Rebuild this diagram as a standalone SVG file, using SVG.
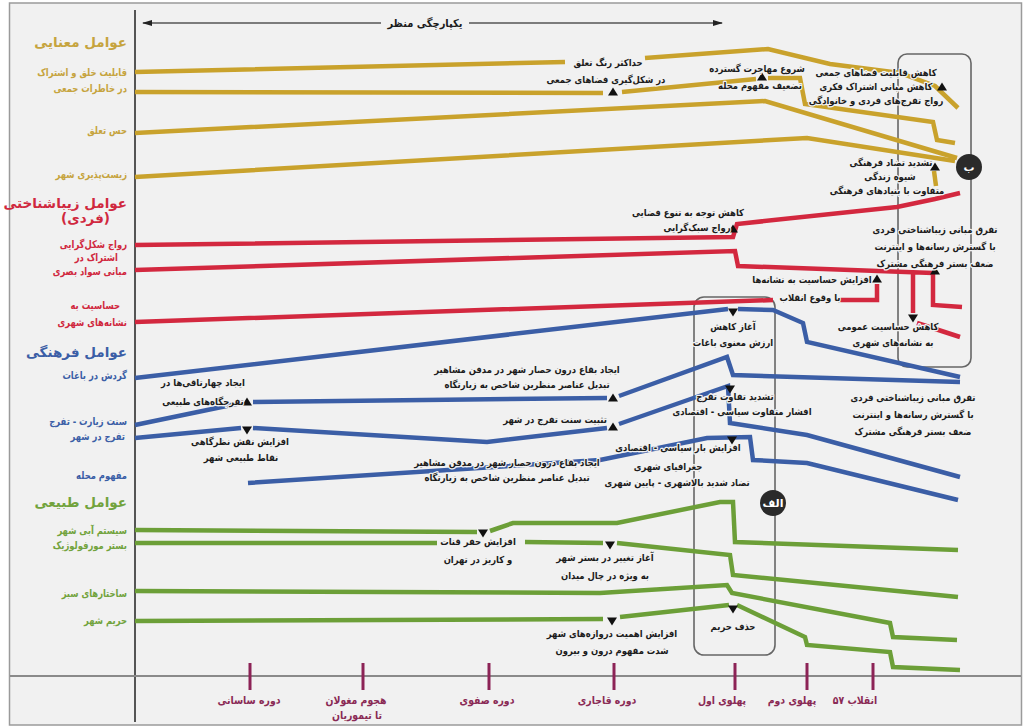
<svg xmlns="http://www.w3.org/2000/svg" width="1023" height="728" viewBox="0 0 1023 728">
<style>
text { font-family: 'DejaVu Sans', 'Noto Sans', sans-serif; font-weight: bold; }
.lab { font-size: 10.5px; text-anchor: end; }
.hd { font-size: 13.5px; text-anchor: end; }
.ann { font-size: 9.6px; fill: #1c1c1c; text-anchor: middle; paint-order: stroke; stroke: #f1f1f1; stroke-width: 2.5px; stroke-linejoin: round; }
.per { font-size: 11px; fill: #8a2a55; text-anchor: middle; }
.cg { fill: #c6a43e; } .cr { fill: #d0283e; } .cb { fill: #3b5ea6; } .cgr { fill: #72a33d; }
.ln { fill: none; stroke-width: 4.5; stroke-linejoin: miter; }
.lg { stroke: #c9a22c; } .lr { stroke: #d3283f; } .lb { stroke: #3b5ea6; } .lgr { stroke: #6c9f38; }
.box { fill: none; stroke: #666; stroke-width: 1.6; }
.tick { stroke: #8c2356; stroke-width: 3; }
.circ { fill: #2a2a2a; }
.ctext { font-size: 11px; fill: #fff; text-anchor: middle; }
</style>
<defs>
<path id="tu" d="M0,-4.5 L5,3.5 L-5,3.5 Z" fill="#111"/>
<path id="td" d="M0,4.5 L5,-3.5 L-5,-3.5 Z" fill="#111"/>
<marker id="arrL" markerWidth="10" markerHeight="8" refX="1" refY="4" orient="auto" markerUnits="userSpaceOnUse"><path d="M10,1 L0,4 L10,7 Z" fill="#222"/></marker>
<marker id="arrR" markerWidth="10" markerHeight="8" refX="9" refY="4" orient="auto" markerUnits="userSpaceOnUse"><path d="M0,1 L10,4 L0,7 Z" fill="#222"/></marker>
</defs>
<rect x="0" y="0" width="1023" height="728" fill="#ffffff"/>
<rect id="frame" x="9.5" y="3" width="1012" height="722" fill="#f1f1f1" stroke="#9a9a9a" stroke-width="1.5"/>

<g id="axes">
<line x1="135" y1="10" x2="135" y2="722" stroke="#555" stroke-width="2"/>
<line x1="10" y1="676" x2="1021" y2="676" stroke="#8a8a8a" stroke-width="2"/>
</g>

<g id="top-arrow">
<line x1="143" y1="23" x2="381" y2="23" stroke="#555" stroke-width="1.5" marker-start="url(#arrL)"/>
<line x1="469" y1="23" x2="722" y2="23" stroke="#555" stroke-width="1.5" marker-end="url(#arrR)"/>
<text transform="translate(425 27) scale(0.9 1)" font-size="11" fill="#1c1c1c" text-anchor="middle">یکپارچگی منظر</text>
</g>

<g id="boxes">
<rect id="box-b" class="box" x="898" y="54" width="73" height="313" rx="9"/>
<rect id="box-alef" class="box" x="694" y="297" width="81" height="358" rx="10"/>
</g>

<g id="connectors">
<path class="ln lg" d="M135,72 L565,62 M645,58 L768,49 L830,64 L900,73 L935,86 L958,108"/>
<path class="ln lg" d="M135,92 L603,93 M622,92 L756,79 M768,78 L800,78 L805,104 L933,122 L937,140 L955,143"/>
<path class="ln lg" d="M135,133 L765,101 L957,158"/>
<path class="ln lg" d="M135,177 L807,138 L955,161"/>
<path class="ln lg" d="M934,171 L936,186"/>

<path class="ln lr" d="M135,245 L733,237 L737,224 L897,207 L935,199 L960,193"/>
<path class="ln lr" d="M135,270 L735,251 L738,266 L933,273 M913,273 L913,313 M917,323 L960,337 M933,273 L933,305 L962,307"/>
<path class="ln lr" d="M135,322 L773,300 M838,300 L877,300 L877,284"/>

<path class="ln lb" d="M135,378 L728,309 M738,309 L773,310 L803,323 L807,342 L960,377"/>
<path class="ln lb" d="M135,425 L241,403 M253,402 L607,398 M619,396 L727,357 L733,375 L960,382"/>
<path class="ln lb" d="M135,438 L241,428 M253,428 L487,442 L607,428 M619,424 L728,386 L730,423 L807,435 L960,477"/>
<path class="ln lb" d="M248,483 L600,460 L707,438 L750,437 L753,460 L807,463 L958,500"/>

<path class="ln lgr" d="M135,530 L477,532 M490,531 L513,523 L617,523 L720,502 L733,502 L735,542 L958,550"/>
<path class="ln lgr" d="M135,543 L437,543 M525,542 L603,543 M617,543 L730,555 L733,575 L958,597"/>
<path class="ln lgr" d="M135,591 L600,593 L727,585 L732,593 L890,623 L893,637 L957,640"/>
<path class="ln lgr" d="M135,621 L603,619 M620,617 L729,605 M737,605 L805,637 L807,645 L890,652 L893,667 L960,670"/>
</g>

<g id="markers">
<use href="#tu" x="613" y="92"/>
<use href="#tu" x="762" y="77"/>
<use href="#tu" x="942" y="87"/>
<use href="#tu" x="935" y="167"/>
<use href="#tu" x="733" y="229"/>
<use href="#tu" x="935" y="271"/>
<use href="#tu" x="877" y="279"/>
<use href="#td" x="913" y="318"/>
<use href="#td" x="733" y="312"/>
<use href="#tu" x="247" y="402"/>
<use href="#td" x="247" y="430"/>
<use href="#tu" x="613" y="398"/>
<use href="#tu" x="613" y="427"/>
<use href="#td" x="730" y="389"/>
<use href="#td" x="732" y="440"/>
<use href="#td" x="483" y="533"/>
<use href="#td" x="610" y="545"/>
<use href="#td" x="612" y="621"/>
<use href="#td" x="733" y="609"/>
</g>

<g id="ticks">
<line class="tick" x1="250" y1="663" x2="250" y2="690"/>
<line class="tick" x1="363" y1="663" x2="363" y2="690"/>
<line class="tick" x1="489" y1="663" x2="489" y2="690"/>
<line class="tick" x1="614" y1="663" x2="614" y2="690"/>
<line class="tick" x1="735" y1="663" x2="735" y2="690"/>
<line class="tick" x1="807" y1="663" x2="807" y2="690"/>
<line class="tick" x1="873" y1="663" x2="873" y2="690"/>
</g>

<g id="periods">
<text class="per" transform="translate(249 704) scale(0.85 1)">دوره ساسانی</text>
<text class="per" transform="translate(356 704) scale(0.85 1)">هجوم مغولان</text>
<text class="per" transform="translate(357 719) scale(0.85 1)">تا تیموریان</text>
<text class="per" transform="translate(487 704) scale(0.85 1)">دوره صفوی</text>
<text class="per" transform="translate(607 704) scale(0.85 1)">دوره قاجاری</text>
<text class="per" transform="translate(722 704) scale(0.85 1)">پهلوی اول</text>
<text class="per" transform="translate(792 704) scale(0.85 1)">پهلوی دوم</text>
<text class="per" transform="translate(855 704) scale(0.85 1)">انقلاب ۵۷</text>
</g>

<g id="factors-meaning" class="cg">
<text class="hd" x="127" y="47">عوامل معنایی</text>
<text class="lab" transform="translate(127 76) scale(0.8 1)">قابلیت خلق و اشتراک</text>
<text class="lab" transform="translate(127 92) scale(0.8 1)">در خاطرات جمعی</text>
<text class="lab" transform="translate(127 134) scale(0.8 1)">حس تعلق</text>
<text class="lab" transform="translate(127 178) scale(0.8 1)">زیست‌پذیری شهر</text>
</g>

<g id="factors-aesthetic" class="cr">
<text class="hd" x="127" y="208" font-size="14.5">عوامل زیباشناختی</text>
<text class="hd" x="110" y="223" font-size="14.5">(فردی)</text>
<text class="lab" transform="translate(127 248) scale(0.8 1)">رواج شکل‌گرایی</text>
<text class="lab" transform="translate(118 261) scale(0.8 1)">اشتراک در</text>
<text class="lab" transform="translate(127 275) scale(0.8 1)">مبانی سواد بصری</text>
<text class="lab" transform="translate(120 309) scale(0.8 1)">حساسیت به</text>
<text class="lab" transform="translate(127 326) scale(0.8 1)">نشانه‌های شهری</text>
</g>

<g id="factors-cultural" class="cb">
<text class="hd" x="127" y="357">عوامل فرهنگی</text>
<text class="lab" transform="translate(127 379) scale(0.8 1)">گردش در باغات</text>
<text class="lab" transform="translate(127 425) scale(0.8 1)">سنت زیارت - تفرج</text>
<text class="lab" transform="translate(125 440) scale(0.8 1)">تفرج در شهر</text>
<text class="lab" transform="translate(127 479) scale(0.8 1)">مفهوم محله</text>
</g>

<g id="factors-natural" class="cgr">
<text class="hd" x="127" y="507">عوامل طبیعی</text>
<text class="lab" transform="translate(127 534) scale(0.8 1)">سیستم آبی شهر</text>
<text class="lab" transform="translate(127 549) scale(0.8 1)">بستر مورفولوژیک</text>
<text class="lab" transform="translate(127 597) scale(0.8 1)">ساختارهای سبز</text>
<text class="lab" transform="translate(127 624) scale(0.8 1)">حریم شهر</text>
</g>

<g id="annotations">
<text class="ann" transform="translate(608 66) scale(0.88 1)">حداکثر رنگ تعلق</text>
<text class="ann" transform="translate(606 83) scale(0.88 1)">در شکل‌گیری فضاهای جمعی</text>
<text class="ann" transform="translate(757 72) scale(0.88 1)">شروع مهاجرت گسترده</text>
<text class="ann" transform="translate(760 89) scale(0.88 1)">تضعیف مفهوم محله</text>
<text class="ann" transform="translate(876 76) scale(0.88 1)">کاهش قابلیت فضاهای جمعی</text>
<text class="ann" transform="translate(876 90) scale(0.88 1)">کاهش مبانی اشتراک فکری</text>
<text class="ann" transform="translate(876 104) scale(0.88 1)">رواج تفرج‌های فردی و خانوادگی</text>
<text class="ann" transform="translate(891 166) scale(0.88 1)">تشدید تضاد فرهنگی</text>
<text class="ann" transform="translate(890 180) scale(0.88 1)">شیوه زندگی</text>
<text class="ann" transform="translate(887 194) scale(0.88 1)">متفاوت با بنیادهای فرهنگی</text>
<text class="ann" transform="translate(688 216) scale(0.88 1)">کاهش توجه به تنوع فضایی</text>
<text class="ann" transform="translate(697 231) scale(0.88 1)">رواج سبک‌گرایی</text>
<text class="ann" transform="translate(935 233) scale(0.88 1)">تفرق مبانی زیباشناختی فردی</text>
<text class="ann" transform="translate(935 250) scale(0.88 1)">با گسترش رسانه‌ها و اینترنت</text>
<text class="ann" transform="translate(935 267) scale(0.88 1)">ضعف بستر فرهنگی مشترک</text>
<text class="ann" transform="translate(812 283) scale(0.88 1)">افزایش حساسیت به نشانه‌ها</text>
<text class="ann" transform="translate(810 301) scale(0.88 1)">با وقوع انقلاب</text>
<text class="ann" transform="translate(888 330) scale(0.88 1)">کاهش حساسیت عمومی</text>
<text class="ann" transform="translate(893 346) scale(0.88 1)">به نشانه‌های شهری</text>
<text class="ann" transform="translate(733 330) scale(0.88 1)">آغاز کاهش</text>
<text class="ann" transform="translate(733 346) scale(0.88 1)">ارزش معنوی باغات</text>
<text class="ann" transform="translate(527 373) scale(0.88 1)">ایجاد بقاع درون حصار شهر در مدفن مشاهیر</text>
<text class="ann" transform="translate(527 388) scale(0.88 1)">تبدیل عناصر منظرین شاخص به زیارتگاه</text>
<text class="ann" transform="translate(203 386) scale(0.88 1)">ایجاد چهارتاقی‌ها در</text>
<text class="ann" transform="translate(203 405) scale(0.88 1)">تفرجگاه‌های طبیعی</text>
<text class="ann" transform="translate(240 445) scale(0.88 1)">افزایش نقش نظرگاهی</text>
<text class="ann" transform="translate(241 461) scale(0.88 1)">نقاط طبیعی شهر</text>
<text class="ann" transform="translate(555 423) scale(0.88 1)">تثبیت سنت تفرج در شهر</text>
<text class="ann" transform="translate(735 400) scale(0.88 1)">تشدید تفاوت تفرج</text>
<text class="ann" transform="translate(742 415) scale(0.88 1)">افشار متفاوت سیاسی - اقتصادی</text>
<text class="ann" transform="translate(678 451) scale(0.88 1)">افزایش بار سیاسی - اقتصادی</text>
<text class="ann" transform="translate(668 470) scale(0.88 1)">جغرافیای شهری</text>
<text class="ann" transform="translate(677 486) scale(0.88 1)">تضاد شدید بالاشهری - پایین شهری</text>
<text class="ann" transform="translate(507 466) scale(0.88 1)">ایجاد بقاع درون حصار شهر در مدفن مشاهیر</text>
<text class="ann" transform="translate(507 481) scale(0.88 1)">تبدیل عناصر منظرین شاخص به زیارتگاه</text>
<text class="ann" transform="translate(913 401) scale(0.88 1)">تفرق مبانی زیباشناختی فردی</text>
<text class="ann" transform="translate(913 418) scale(0.88 1)">با گسترش رسانه‌ها و اینترنت</text>
<text class="ann" transform="translate(913 435) scale(0.88 1)">ضعف بستر فرهنگی مشترک</text>
<text class="ann" transform="translate(478 545) scale(0.88 1)">افزایش حفر قنات</text>
<text class="ann" transform="translate(478 563) scale(0.88 1)">و کاریز در تهران</text>
<text class="ann" transform="translate(605 561) scale(0.88 1)">آغاز تغییر در بستر شهر</text>
<text class="ann" transform="translate(605 579) scale(0.88 1)">به ویژه در چال میدان</text>
<text class="ann" transform="translate(612 637) scale(0.88 1)">افزایش اهمیت دروازه‌های شهر</text>
<text class="ann" transform="translate(612 654) scale(0.88 1)">شدت مفهوم درون و بیرون</text>
<text class="ann" transform="translate(733 630) scale(0.88 1)">حذف حریم</text>
</g>

<g id="badge-b">
<circle class="circ" cx="969" cy="167" r="13"/>
<text class="ctext" x="969" y="171">ب</text>
</g>
<g id="badge-alef">
<circle class="circ" cx="773" cy="503" r="13"/>
<text class="ctext" x="773" y="507">الف</text>
</g>
</svg>
